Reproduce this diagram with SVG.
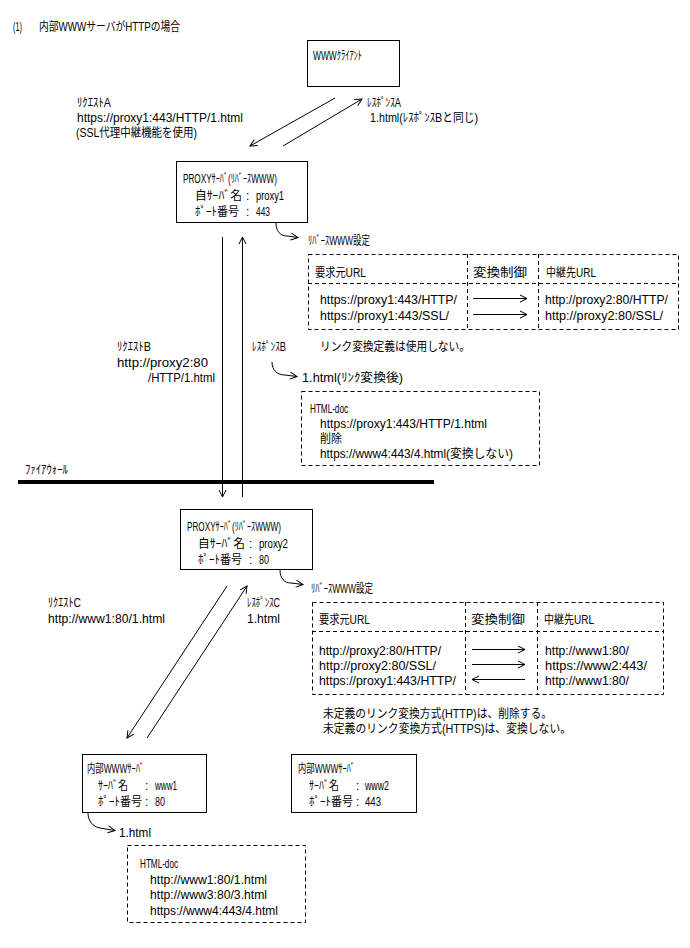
<svg xmlns="http://www.w3.org/2000/svg" width="690" height="948" viewBox="0 0 690 948">
<style>
.t{font-family:"Liberation Sans","Noto Sans CJK JP","Noto Sans CJK SC",sans-serif;font-size:12px;fill:#000}
.box{fill:#fff;stroke:#000;stroke-width:1}
.dash{fill:none;stroke:#000;stroke-width:1;stroke-dasharray:4 3}
.ln{fill:none;stroke:#000;stroke-width:1}
.arr{fill:none;stroke:#000;stroke-width:1;marker-end:url(#ah)}
</style>
<defs>
<marker id="ah" markerWidth="9" markerHeight="9" refX="8" refY="4.5" orient="auto" markerUnits="userSpaceOnUse">
<path d="M1,1 L8,4.5 L1,8" fill="none" stroke="#000" stroke-width="1"/>
</marker>
</defs>
<rect width="690" height="948" fill="#fff"/>

<g id="title">
<text class="t" x="13" y="31" textLength="9" lengthAdjust="spacingAndGlyphs">(1)</text>
<text class="t" x="39" y="31" textLength="141" lengthAdjust="spacingAndGlyphs">内部WWWサーバがHTTPの場合</text>
</g>

<g id="client">
<rect class="box" x="307.5" y="40.5" width="92" height="46"/>
<text class="t" x="313" y="60" textLength="49" lengthAdjust="spacingAndGlyphs">WWWｸﾗｲｱﾝﾄ</text>
</g>

<g id="proxy1">
<rect class="box" x="176.5" y="161.5" width="131" height="61"/>
<text class="t" x="183" y="183" textLength="94" lengthAdjust="spacingAndGlyphs">PROXYｻｰﾊﾞ(ﾘﾊﾞｰｽWWW)</text>
<text class="t" x="195" y="200" textLength="47" lengthAdjust="spacingAndGlyphs">自ｻｰﾊﾞ名</text>
<text class="t" x="246" y="200">:</text>
<text class="t" x="256" y="200" textLength="28" lengthAdjust="spacingAndGlyphs">proxy1</text>
<text class="t" x="195" y="216" textLength="44" lengthAdjust="spacingAndGlyphs">ﾎﾟｰﾄ番号</text>
<text class="t" x="246" y="216">:</text>
<text class="t" x="256" y="216" textLength="14" lengthAdjust="spacingAndGlyphs">443</text>
</g>

<g id="proxy2">
<rect class="box" x="180.5" y="509.5" width="132" height="60"/>
<text class="t" x="187" y="531" textLength="94" lengthAdjust="spacingAndGlyphs">PROXYｻｰﾊﾞ(ﾘﾊﾞｰｽWWW)</text>
<text class="t" x="198" y="548" textLength="47" lengthAdjust="spacingAndGlyphs">自ｻｰﾊﾞ名</text>
<text class="t" x="249" y="548">:</text>
<text class="t" x="259" y="548" textLength="29" lengthAdjust="spacingAndGlyphs">proxy2</text>
<text class="t" x="198" y="564" textLength="44" lengthAdjust="spacingAndGlyphs">ﾎﾟｰﾄ番号</text>
<text class="t" x="249" y="564">:</text>
<text class="t" x="259" y="564" textLength="10" lengthAdjust="spacingAndGlyphs">80</text>
</g>

<g id="www1">
<rect class="box" x="82.5" y="754.5" width="124" height="58"/>
<text class="t" x="87" y="773" textLength="57" lengthAdjust="spacingAndGlyphs">内部WWWｻｰﾊﾞ</text>
<text class="t" x="98" y="790" textLength="30" lengthAdjust="spacingAndGlyphs">ｻｰﾊﾞ名</text>
<text class="t" x="145" y="790">:</text>
<text class="t" x="155" y="790" textLength="22" lengthAdjust="spacingAndGlyphs">www1</text>
<text class="t" x="98" y="806" textLength="44" lengthAdjust="spacingAndGlyphs">ﾎﾟｰﾄ番号</text>
<text class="t" x="145" y="806">:</text>
<text class="t" x="155" y="806" textLength="10" lengthAdjust="spacingAndGlyphs">80</text>
</g>

<g id="www2">
<rect class="box" x="291.5" y="754.5" width="125" height="58"/>
<text class="t" x="298" y="773" textLength="57" lengthAdjust="spacingAndGlyphs">内部WWWｻｰﾊﾞ</text>
<text class="t" x="309" y="790" textLength="30" lengthAdjust="spacingAndGlyphs">ｻｰﾊﾞ名</text>
<text class="t" x="356" y="790">:</text>
<text class="t" x="365" y="790" textLength="24" lengthAdjust="spacingAndGlyphs">www2</text>
<text class="t" x="309" y="806" textLength="44" lengthAdjust="spacingAndGlyphs">ﾎﾟｰﾄ番号</text>
<text class="t" x="356" y="806">:</text>
<text class="t" x="365" y="806" textLength="16" lengthAdjust="spacingAndGlyphs">443</text>
</g>

<g id="table1">
<rect class="dash" x="308.5" y="254.5" width="370" height="75"/>
<line class="dash" x1="308" y1="283.5" x2="678" y2="283.5"/>
<line class="dash" x1="467.5" y1="254" x2="467.5" y2="329"/>
<line class="dash" x1="538.5" y1="254" x2="538.5" y2="329"/>
<text class="t" x="315" y="277" textLength="51" lengthAdjust="spacingAndGlyphs">要求元URL</text>
<text class="t" x="473" y="277" textLength="54" lengthAdjust="spacingAndGlyphs">変換制御</text>
<text class="t" x="546" y="277" textLength="50" lengthAdjust="spacingAndGlyphs">中継先URL</text>
<text class="t" x="320" y="304" textLength="137" lengthAdjust="spacingAndGlyphs">https://proxy1:443/HTTP/</text>
<text class="t" x="320" y="320" textLength="129" lengthAdjust="spacingAndGlyphs">https://proxy1:443/SSL/</text>
<text class="t" x="545" y="304" textLength="123" lengthAdjust="spacingAndGlyphs">http://proxy2:80/HTTP/</text>
<text class="t" x="545" y="320" textLength="118" lengthAdjust="spacingAndGlyphs">http://proxy2:80/SSL/</text>
</g>

<g id="table2">
<rect class="dash" x="312.5" y="602.5" width="351" height="92"/>
<line class="dash" x1="312" y1="631.5" x2="663" y2="631.5"/>
<line class="dash" x1="465.5" y1="602" x2="465.5" y2="694"/>
<line class="dash" x1="537.5" y1="602" x2="537.5" y2="694"/>
<text class="t" x="319" y="624" textLength="51" lengthAdjust="spacingAndGlyphs">要求元URL</text>
<text class="t" x="471" y="624" textLength="54" lengthAdjust="spacingAndGlyphs">変換制御</text>
<text class="t" x="544" y="624" textLength="50" lengthAdjust="spacingAndGlyphs">中継先URL</text>
<text class="t" x="319" y="655" textLength="122" lengthAdjust="spacingAndGlyphs">http://proxy2:80/HTTP/</text>
<text class="t" x="319" y="670" textLength="117" lengthAdjust="spacingAndGlyphs">http://proxy2:80/SSL/</text>
<text class="t" x="319" y="685" textLength="137" lengthAdjust="spacingAndGlyphs">https://proxy1:443/HTTP/</text>
<text class="t" x="545" y="655" textLength="84" lengthAdjust="spacingAndGlyphs">http://www1:80/</text>
<text class="t" x="545" y="670" textLength="102" lengthAdjust="spacingAndGlyphs">https://www2:443/</text>
<text class="t" x="545" y="685" textLength="84" lengthAdjust="spacingAndGlyphs">http://www1:80/</text>
</g>

<g id="doc1">
<rect class="dash" x="301.5" y="391.5" width="238" height="74"/>
<text class="t" x="310" y="413" textLength="38" lengthAdjust="spacingAndGlyphs">HTML-doc</text>
<text class="t" x="320" y="428" textLength="167" lengthAdjust="spacingAndGlyphs">https://proxy1:443/HTTP/1.html</text>
<text class="t" x="320" y="443" textLength="22" lengthAdjust="spacingAndGlyphs">削除</text>
<text class="t" x="320" y="458" textLength="193" lengthAdjust="spacingAndGlyphs">https://www4:443/4.html(変換しない)</text>
</g>

<g id="doc2">
<rect class="dash" x="127.5" y="845.5" width="178" height="77"/>
<text class="t" x="140" y="868" textLength="38" lengthAdjust="spacingAndGlyphs">HTML-doc</text>
<text class="t" x="150" y="884" textLength="117" lengthAdjust="spacingAndGlyphs">http://www1:80/1.html</text>
<text class="t" x="150" y="899" textLength="117" lengthAdjust="spacingAndGlyphs">http://www3:80/3.html</text>
<text class="t" x="150" y="915" textLength="128" lengthAdjust="spacingAndGlyphs">https://www4:443/4.html</text>
</g>

<g id="firewall">
<line x1="18" y1="482" x2="434" y2="482" stroke="#000" stroke-width="4"/>
<text class="t" x="25" y="474" textLength="43" lengthAdjust="spacingAndGlyphs">ﾌｧｲｱｳｫｰﾙ</text>
</g>

<g id="labels">
<text class="t" x="77" y="107" textLength="34" lengthAdjust="spacingAndGlyphs">ﾘｸｴｽﾄA</text>
<text class="t" x="77" y="122" textLength="166" lengthAdjust="spacingAndGlyphs">https://proxy1:443/HTTP/1.html</text>
<text class="t" x="76" y="137" textLength="121" lengthAdjust="spacingAndGlyphs">(SSL代理中継機能を使用)</text>
<text class="t" x="367" y="107" textLength="34" lengthAdjust="spacingAndGlyphs">ﾚｽﾎﾟﾝｽA</text>
<text class="t" x="370" y="122" textLength="108" lengthAdjust="spacingAndGlyphs">1.html(ﾚｽﾎﾟﾝｽBと同じ)</text>
<text class="t" x="308" y="245" textLength="62" lengthAdjust="spacingAndGlyphs">ﾘﾊﾞｰｽWWW設定</text>
<text class="t" x="117" y="351" textLength="34" lengthAdjust="spacingAndGlyphs">ﾘｸｴｽﾄB</text>
<text class="t" x="117" y="367" textLength="91" lengthAdjust="spacingAndGlyphs">http://proxy2:80</text>
<text class="t" x="148" y="382" textLength="67" lengthAdjust="spacingAndGlyphs">/HTTP/1.html</text>
<text class="t" x="252" y="351" textLength="34" lengthAdjust="spacingAndGlyphs">ﾚｽﾎﾟﾝｽB</text>
<text class="t" x="320" y="351" textLength="150" lengthAdjust="spacingAndGlyphs">リンク変換定義は使用しない。</text>
<text class="t" x="302" y="382" textLength="101" lengthAdjust="spacingAndGlyphs">1.html(ﾘﾝｸ変換後)</text>
<text class="t" x="311" y="593" textLength="62" lengthAdjust="spacingAndGlyphs">ﾘﾊﾞｰｽWWW設定</text>
<text class="t" x="48" y="607" textLength="33" lengthAdjust="spacingAndGlyphs">ﾘｸｴｽﾄC</text>
<text class="t" x="48" y="623" textLength="117" lengthAdjust="spacingAndGlyphs">http://www1:80/1.html</text>
<text class="t" x="247" y="607" textLength="33" lengthAdjust="spacingAndGlyphs">ﾚｽﾎﾟﾝｽC</text>
<text class="t" x="247" y="623" textLength="33" lengthAdjust="spacingAndGlyphs">1.html</text>
<text class="t" x="323" y="718" textLength="229" lengthAdjust="spacingAndGlyphs">未定義のリンク変換方式(HTTP)は、削除する。</text>
<text class="t" x="323" y="733" textLength="248" lengthAdjust="spacingAndGlyphs">未定義のリンク変換方式(HTTPS)は、変換しない。</text>
<text class="t" x="119" y="837" textLength="32" lengthAdjust="spacingAndGlyphs">1.html</text>
</g>

<g id="connectors">
<line class="arr" x1="335" y1="98" x2="250" y2="146"/>
<line class="arr" x1="283" y1="146" x2="362" y2="99"/>
<line class="arr" x1="222.5" y1="237" x2="222.5" y2="497"/>
<line class="arr" x1="242.5" y1="497" x2="242.5" y2="237"/>
<line class="arr" x1="227" y1="586" x2="127" y2="738"/>
<line class="arr" x1="147" y1="738" x2="247" y2="586"/>
<path class="arr" d="M276,223 C276,231 280,236 287,236 L298,237.5"/>
<path class="arr" d="M272,362 C272,370 277,375 285,375 L297,376.5"/>
<path class="arr" d="M280,570 C280,578 284,583 291,583 L303,584.5"/>
<path class="arr" d="M88,813 C88,821 93,827 100,828 L115,830.5"/>
<line class="arr" x1="473" y1="298.5" x2="527" y2="298.5"/>
<line class="arr" x1="473" y1="314.5" x2="527" y2="314.5"/>
<line class="arr" x1="472" y1="649.5" x2="525" y2="649.5"/>
<line class="arr" x1="472" y1="664.5" x2="525" y2="664.5"/>
<line class="arr" x1="525" y1="679.5" x2="472" y2="679.5"/>
</g>
</svg>
